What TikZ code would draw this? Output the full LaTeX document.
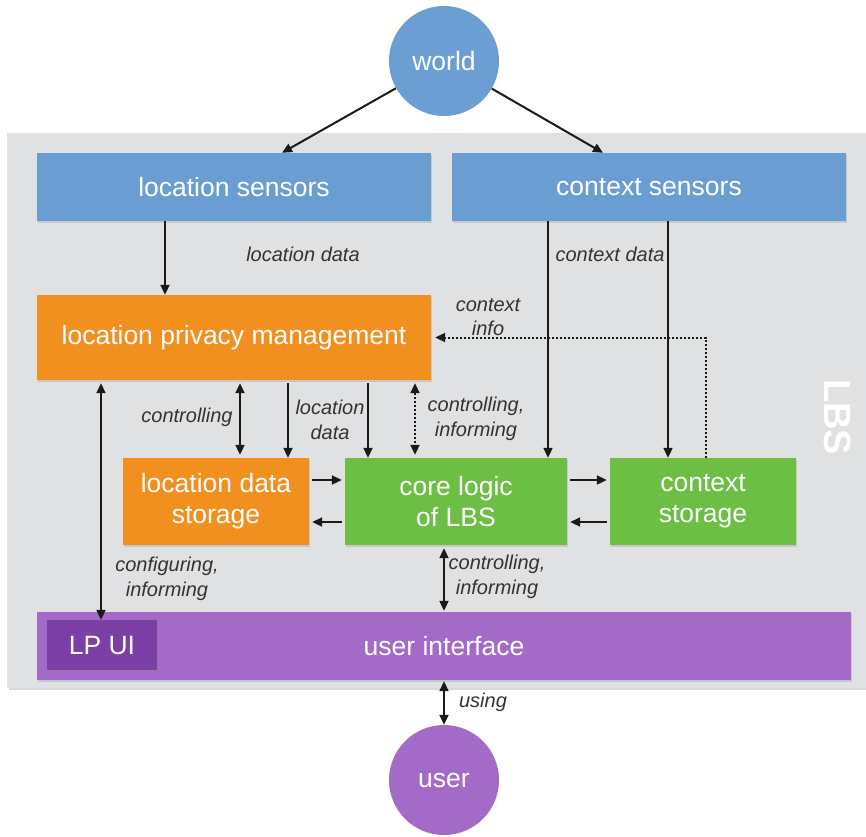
\documentclass[tikz,border=0pt]{standalone}
\usepackage{fontspec}
\setmainfont{Liberation Sans}
\usetikzlibrary{arrows.meta,shadows}
\definecolor{sensblue}{HTML}{6A9ED2}
\definecolor{worldblue}{HTML}{6B9FD4}
\definecolor{lporange}{HTML}{F18F1F}
\definecolor{lgreen}{HTML}{6CBE45}
\definecolor{uipurple}{HTML}{A36AC7}
\definecolor{lpuipurple}{HTML}{7B3FA6}
\definecolor{panelgray}{HTML}{E0E1E3}
\definecolor{labgray}{HTML}{333333}
\definecolor{arrowblack}{HTML}{1A1A1A}
\tikzset{
  box/.style={rectangle, draw=none, text=white, align=center, inner sep=0pt,
    font=\fontsize{26.5}{31}\selectfont,
    drop shadow={shadow xshift=1pt, shadow yshift=-1.5pt, opacity=0.25}},
  circ/.style={circle, draw=none, text=white, inner sep=0pt, minimum size=110pt,
    font=\fontsize{26.5}{31}\selectfont},
  lab/.style={text=labgray, align=center, inner sep=0pt,
    font=\fontsize{20}{24.5}\selectfont\itshape},
  arr/.style={draw=arrowblack, line width=2pt, -{Triangle[length=10pt,width=9pt]}},
  darr/.style={draw=arrowblack, line width=2pt, {Triangle[length=10pt,width=9pt]}-{Triangle[length=10pt,width=9pt]}},
  dots/.style={dash pattern=on 2pt off 2pt},
}
\begin{document}
\begin{tikzpicture}[x=1pt,y=-1pt]
\useasboundingbox (0,0) rectangle (866,836);
% LBS panel
\fill[panelgray, drop shadow={shadow xshift=1.5pt, shadow yshift=-2pt, opacity=0.3}] (7,133) rectangle (872,688);
\node[text=white, rotate=-90, font=\fontsize{38}{40}\selectfont\bfseries, inner sep=0pt] (lbs) at (838,417) {LBS};

% nodes
\node[circ, fill=worldblue] (world) at (444,61) {world};
\node[circ, fill=uipurple] (user) at (444,780) {user};
\node[box, fill=sensblue, minimum width=394pt, minimum height=68pt] (lsens) at (234,187) {location sensors};
\node[box, fill=sensblue, minimum width=394pt, minimum height=68pt] (csens) at (649,187) {context sensors};
\node[box, fill=lporange, minimum width=394pt, minimum height=85pt] (lpm) at (234,337.5) {location privacy management};
\node[box, fill=lporange, minimum width=186pt, minimum height=87pt] (lds) at (216,501.5) {location data\\storage};
\node[box, fill=lgreen, minimum width=222pt, minimum height=87pt] (core) at (456,501.5) {core logic\\of LBS};
\node[box, fill=lgreen, minimum width=186pt, minimum height=87pt] (cst) at (703,501.5) {context\\storage};
\node[box, fill=uipurple, minimum width=814pt, minimum height=68pt] (ui) at (444,646) {user interface};
\node[box, fill=lpuipurple, minimum width=110pt, minimum height=50pt] (lpui) at (102,645) {LP UI};

% connectors
\draw[arr] (world) -- ([xshift=48pt]lsens.north);
\draw[arr] (world) -- ([xshift=-46pt]csens.north);
\draw[arr] ([xshift=-69pt]lsens.south) -- ([xshift=-69pt]lpm.north);
\draw[arr] ([xshift=-101pt]csens.south) -- ([xshift=92pt]core.north);
\draw[arr] ([xshift=19pt]csens.south) -- ([xshift=-35pt]cst.north);
\draw[arr, dots, shorten >=4pt] ([xshift=3pt]cst.north) |- (lpm.east);
\draw[darr, shorten <=3pt, shorten >=3pt] ([xshift=6pt]lpm.south) -- ([xshift=24pt]lds.north);
\draw[arr, shorten <=3pt] ([xshift=54pt]lpm.south) -- ([xshift=72pt]lds.north);
\draw[arr, shorten <=3pt] ([xshift=134pt]lpm.south) -- ([xshift=-88pt]core.north);
\draw[darr, dots, shorten <=3pt, shorten >=3pt] ([xshift=181pt]lpm.south) -- ([xshift=-41pt]core.north);
\draw[arr, shorten <=3pt, shorten >=3pt] ([yshift=21.5pt]lds.east) -- ([yshift=21.5pt]core.west);
\draw[arr, shorten <=3pt, shorten >=3pt] ([yshift=-20.5pt]core.west) -- ([yshift=-20.5pt]lds.east);
\draw[arr, shorten <=3pt, shorten >=3pt] ([yshift=21.5pt]core.east) -- ([yshift=21.5pt]cst.west);
\draw[arr, shorten <=3pt, shorten >=3pt] ([yshift=-20.5pt]cst.west) -- ([yshift=-20.5pt]core.east);
\draw[darr, shorten <=3pt] ([xshift=-133pt]lpm.south) -- ([xshift=-1pt]lpui.north);
\draw[darr, shorten <=3pt, shorten >=1pt] ([xshift=-12pt]core.south) -- (ui.north);
\draw[darr, shorten <=1pt] (ui.south) -- (user.north);

% labels
\node[lab] (l1) at (303,254) {location data};
\node[lab] (l2) at (610,254) {context data};
\node[lab] (l3) at (488,317) {context\\info};
\node[lab] (l4) at (187,417) {controlling};
\node[lab] (l5) at (330,420) {location\\data};
\node[lab] (l6) at (476,419) {controlling,\\informing};
\node[lab] (l7) at (167,579) {configuring,\\informing};
\node[lab] (l8) at (497,577) {controlling,\\informing};
\node[lab] (l9) at (483,702) {using};
\end{tikzpicture}
\end{document}
